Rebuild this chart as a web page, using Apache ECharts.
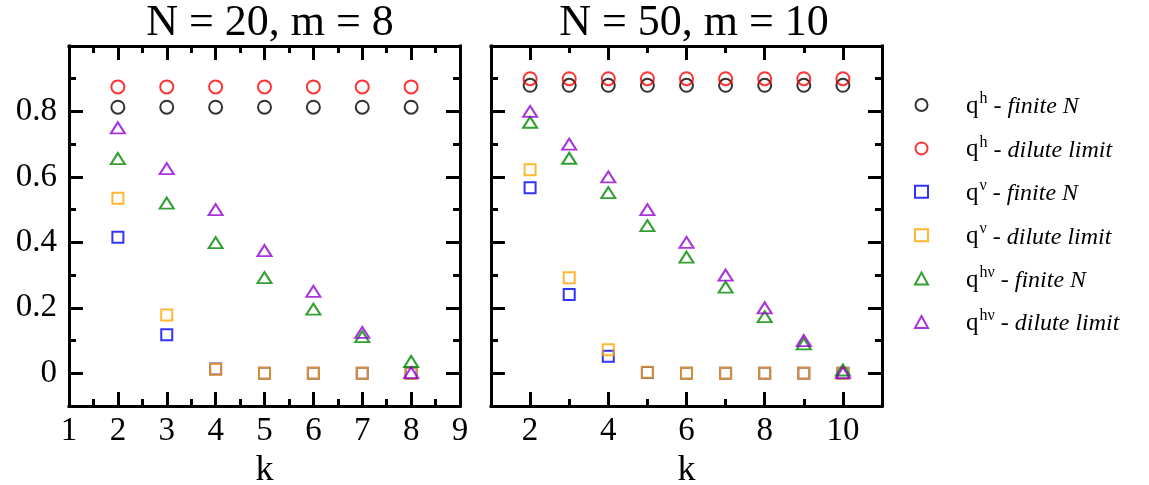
<!DOCTYPE html>
<html><head><meta charset="utf-8">
<script src="https://cdn.jsdelivr.net/npm/echarts@6/dist/echarts.min.js"></script>
<style>html,body{margin:0;padding:0;background:#fff}#c{width:1149px;height:485px}</style>
</head><body><div id="c"></div>
<script>
const FONT = '"Liberation Serif","Times New Roman",serif';

// ---- data ----
const titles = ['N = 20, m = 8', 'N = 50, m = 10'];
const kLeft = [2, 3, 4, 5, 6, 7, 8];
const kRight = [2, 3, 4, 5, 6, 7, 8, 9, 10];

const L_qh_finite  = [0.813, 0.813, 0.813, 0.813, 0.813, 0.813, 0.813];
const L_qh_dilute  = [0.875, 0.875, 0.875, 0.875, 0.875, 0.875, 0.875];
const L_qv_finite  = [0.416, 0.118, 0.013, 0, 0, 0, 0];
const L_qv_dilute  = [0.535, 0.178, 0.012, 0, 0, 0, 0];
const L_qhv_finite = [0.656, 0.520, 0.399, 0.292, 0.196, 0.112, 0.036];
const L_qhv_dilute = [0.750, 0.625, 0.500, 0.375, 0.250, 0.125, 0.002];

const R_qh_finite  = [0.88, 0.88, 0.88, 0.88, 0.88, 0.88, 0.88, 0.88, 0.88];
const R_qh_dilute  = [0.90, 0.90, 0.90, 0.90, 0.90, 0.90, 0.90, 0.90, 0.90];
const R_qv_finite  = [0.567, 0.241, 0.052, 0.002, 0, 0, 0, 0, 0];
const R_qv_dilute  = [0.622, 0.292, 0.072, 0.003, 0, 0, 0, 0, 0];
const R_qhv_finite = [0.767, 0.657, 0.552, 0.451, 0.355, 0.263, 0.173, 0.090, 0.010];
const R_qhv_dilute = [0.800, 0.700, 0.600, 0.500, 0.400, 0.300, 0.200, 0.100, 0.002];

// tick values
const yMajor = [0, 0.2, 0.4, 0.6, 0.8];
const yMinor = [0.1, 0.3, 0.5, 0.7, 0.9];
const xLeftMajor = [1, 2, 3, 4, 5, 6, 7, 8, 9];
const xLeftMinor = [1.5, 2.5, 3.5, 4.5, 5.5, 6.5, 7.5, 8.5];
const xRightMajor = [2, 4, 6, 8, 10];
const xRightMinor = [3, 5, 7, 9];

// legend
const seriesNames = ['qh_finite', 'qh_dilute', 'qv_finite', 'qv_dilute', 'qhv_finite', 'qhv_dilute'];
const legendSup = ['h', 'h', 'ν', 'ν', 'hν', 'hν'];
const legendDesc = ['finite N', 'dilute limit', 'finite N', 'dilute limit', 'finite N', 'dilute limit'];
const colors = ['#000000', '#ff0000', '#0000ff', '#ffa500', '#008800', '#9400d3'];
const shapes = ['circle', 'circle', 'rect', 'rect', 'triangle', 'triangle'];

const leftData = [L_qh_finite, L_qh_dilute, L_qv_finite, L_qv_dilute, L_qhv_finite, L_qhv_dilute];
const rightData = [R_qh_finite, R_qh_dilute, R_qv_finite, R_qv_dilute, R_qhv_finite, R_qhv_dilute];

// ---- layout ----
const G_TOP = 46, G_H = 360, G_W = 391;
const G_LEFT = [69, 491];
const grids = [];
for (let p = 0; p < 2; p++) {
  for (let j = 0; j < 2; j++) { // major grid, minor-tick grid
    grids.push({ left: G_LEFT[p], top: G_TOP, width: G_W, height: G_H,
      containLabel: false, outerBoundsMode: 'none' });
  }
}

function axis(opts) {
  const a = {
    type: 'value',
    gridIndex: opts.grid,
    position: opts.position,
    min: opts.min, max: opts.max,
    splitLine: { show: false },
    axisLine: { show: !!opts.line, onZero: false, lineStyle: { color: '#000', width: 3, cap: 'square' } },
    axisTick: { show: true, inside: true, length: opts.len, customValues: opts.ticks,
      lineStyle: { color: '#000', width: 3 } },
    axisLabel: { show: !!opts.labels, customValues: opts.ticks, color: '#000',
      fontFamily: FONT, fontSize: 33, margin: opts.margin || 8 },
    minorTick: { show: false },
    silent: true
  };
  if (opts.name) {
    a.name = opts.name; a.nameLocation = 'middle'; a.nameGap = opts.nameGap;
    a.nameTextStyle = { color: '#000', fontFamily: FONT, fontSize: 36 };
  }
  return a;
}

const xAxes = [], yAxes = [];
const xRanges = [[1, 9], [1, 11]];
const xMaj = [xLeftMajor, xRightMajor], xMin = [xLeftMinor, xRightMinor];
for (let p = 0; p < 2; p++) {
  const gA = p * 2, gB = p * 2 + 1;
  const [mn, mx] = xRanges[p];
  xAxes.push(axis({ grid: gA, position: 'bottom', min: mn, max: mx, ticks: xMaj[p], len: 14, line: true, labels: true, margin: 9, name: 'k', nameGap: 44 }));
  xAxes.push(axis({ grid: gA, position: 'top', min: mn, max: mx, ticks: xMaj[p], len: 14, line: true }));
  yAxes.push(axis({ grid: gA, position: 'left', min: -0.1, max: 1.0, ticks: yMajor, len: 14, line: true, labels: p === 0, margin: 12 }));
  yAxes.push(axis({ grid: gA, position: 'right', min: -0.1, max: 1.0, ticks: yMajor, len: 14, line: true }));
  xAxes.push(axis({ grid: gB, position: 'bottom', min: mn, max: mx, ticks: xMin[p], len: 7 }));
  xAxes.push(axis({ grid: gB, position: 'top', min: mn, max: mx, ticks: xMin[p], len: 7 }));
  yAxes.push(axis({ grid: gB, position: 'left', min: -0.1, max: 1.0, ticks: yMinor, len: 7 }));
  yAxes.push(axis({ grid: gB, position: 'right', min: -0.1, max: 1.0, ticks: yMinor, len: 7 }));
}

const series = [];
const panels = [[kLeft, leftData], [kRight, rightData]];
for (let p = 0; p < 2; p++) {
  const [ks, dataSet] = panels[p];
  for (let s = 0; s < 6; s++) {
    const sz = shapes[s] === 'circle' ? 13 : shapes[s] === 'rect' ? 11 : [14, 11];
    series.push({
      type: 'scatter',
      name: seriesNames[s],
      xAxisIndex: p * 4, yAxisIndex: p * 4,
      symbol: shapes[s],
      symbolSize: sz,
      data: ks.map((k, i) => [k, dataSet[s][i]]),
      itemStyle: { color: 'rgba(0,0,0,0)', borderColor: colors[s], borderWidth: 2 },
      emphasis: { disabled: true },
      clip: false
    });
  }
}

const chart = echarts.init(document.getElementById('c'), null, { renderer: 'canvas' });
chart.setOption({
  animation: false,
  backgroundColor: '#fff',
  title: [
    { text: titles[0], left: 265, top: -4, textAlign: 'center',
      textStyle: { fontFamily: FONT, fontSize: 44, fontWeight: 'normal', color: '#000' } },
    { text: titles[1], left: 689, top: -4, textAlign: 'center',
      textStyle: { fontFamily: FONT, fontSize: 44, fontWeight: 'normal', color: '#000' } }
  ],
  grid: grids,
  xAxis: xAxes,
  yAxis: yAxes,
  legend: {
    orient: 'vertical',
    left: 914, top: 91, padding: 0,
    itemWidth: 13, itemHeight: 12, itemGap: 9.4,
    data: seriesNames,
    selectedMode: false,
    formatter: function (name) {
      const i = seriesNames.indexOf(name);
      return '{q|q}{s|' + legendSup[i] + '}{t| - ' + legendDesc[i] + '}';
    },
    textStyle: {
      color: '#000',
      rich: {
        q: { fontFamily: FONT, fontSize: 25, lineHeight: 28, verticalAlign: 'bottom', padding: [0, 0, 0, 33], color: '#000' },
        s: { fontFamily: FONT, fontSize: 16, lineHeight: 16, verticalAlign: 'top', padding: [0, 0, 18, 1], color: '#000' },
        t: { fontFamily: FONT, fontSize: 24, lineHeight: 28, fontStyle: 'italic', verticalAlign: 'bottom', color: '#000' }
      }
    }
  },
  series: series
});
</script>
</body></html>
